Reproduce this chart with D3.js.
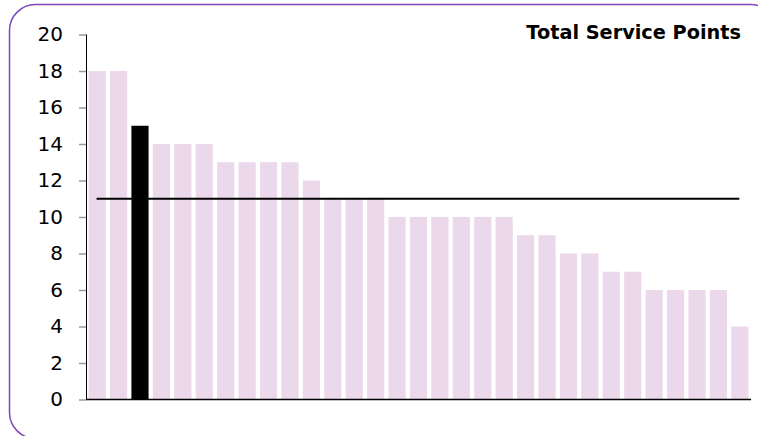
<!DOCTYPE html>
<html>
<head>
<meta charset="utf-8">
<script src="https://d3js.org/d3.v7.min.js"></script>
<style>
  body { margin: 0; background: #fff; }
  svg { display: block; }
</style>
</head>
<body>
<div id="chart"></div>
<script>
// Service point counts, sorted descending; the highlighted one is index 2
const values = [18, 18, 15, 14, 14, 14, 13, 13, 13, 13, 12, 11, 11, 11,
  10, 10, 10, 10, 10, 10, 9, 9, 8, 8, 7, 7, 6, 6, 6, 6, 4];
const highlightIndex = 2;
const averageValue = 11;
const yTicks = [0, 2, 4, 6, 8, 10, 12, 14, 16, 18, 20];
const title = "Total Service Points";

const width = 758, height = 436;
const svg = d3.select("#chart").append("svg")
  .attr("width", width).attr("height", height);

// rounded purple frame (runs off the bottom/right edge)
svg.append("rect")
  .attr("x", 9.5).attr("y", 4.5)
  .attr("width", 767).attr("height", 434)
  .attr("rx", 26).attr("ry", 26)
  .attr("fill", "none")
  .attr("stroke", "#8048b8")
  .attr("stroke-width", 1.5);

const plotLeft = 86, plotRight = 751, plotTop = 34.5, plotBottom = 399.5;

const x = d3.scaleBand()
  .domain(values.map((d, i) => i))
  .range([plotLeft, plotRight])
  .paddingInner(0.2)
  .paddingOuter(0.12);

const y = d3.scaleLinear().domain([0, 20]).range([plotBottom, plotTop]);

// bars
svg.selectAll("rect.bar")
  .data(values)
  .enter()
  .append("rect")
  .attr("class", "bar")
  .attr("x", (d, i) => x(i))
  .attr("y", d => y(d))
  .attr("width", x.bandwidth())
  .attr("height", d => y(0) - y(d))
  .attr("fill", (d, i) => i === highlightIndex ? "#000" : "#ebd8eb");

// y axis
const yAxis = d3.axisLeft(y).tickValues(yTicks).tickSize(7).tickPadding(16);
const gy = svg.append("g").attr("transform", `translate(${plotLeft},0)`).call(yAxis);
gy.attr("font-size", 20).attr("font-family", "Verdana, 'DejaVu Sans', sans-serif");
gy.select(".domain").attr("stroke", "#000").attr("d", `M0.5,${plotTop}V${plotBottom}`);
gy.selectAll(".tick line").attr("stroke", "#999").attr("stroke-width", 1.5);
gy.selectAll(".tick text").attr("fill", "#000");

// x axis baseline
svg.append("line")
  .attr("x1", plotLeft).attr("x2", plotRight)
  .attr("y1", y(0)).attr("y2", y(0))
  .attr("stroke", "#000").attr("stroke-width", 1.5);

// average line
svg.append("line")
  .attr("x1", x(0) + 8).attr("x2", x(values.length - 1) + 8)
  .attr("y1", y(averageValue)).attr("y2", y(averageValue))
  .attr("stroke", "#000").attr("stroke-width", 2);

// title
svg.append("text")
  .attr("x", 741).attr("y", 39)
  .attr("text-anchor", "end")
  .attr("font-family", "Verdana, 'DejaVu Sans', sans-serif")
  .attr("font-weight", "bold")
  .attr("font-size", 19.3)
  .text(title);
</script>
</body>
</html>
